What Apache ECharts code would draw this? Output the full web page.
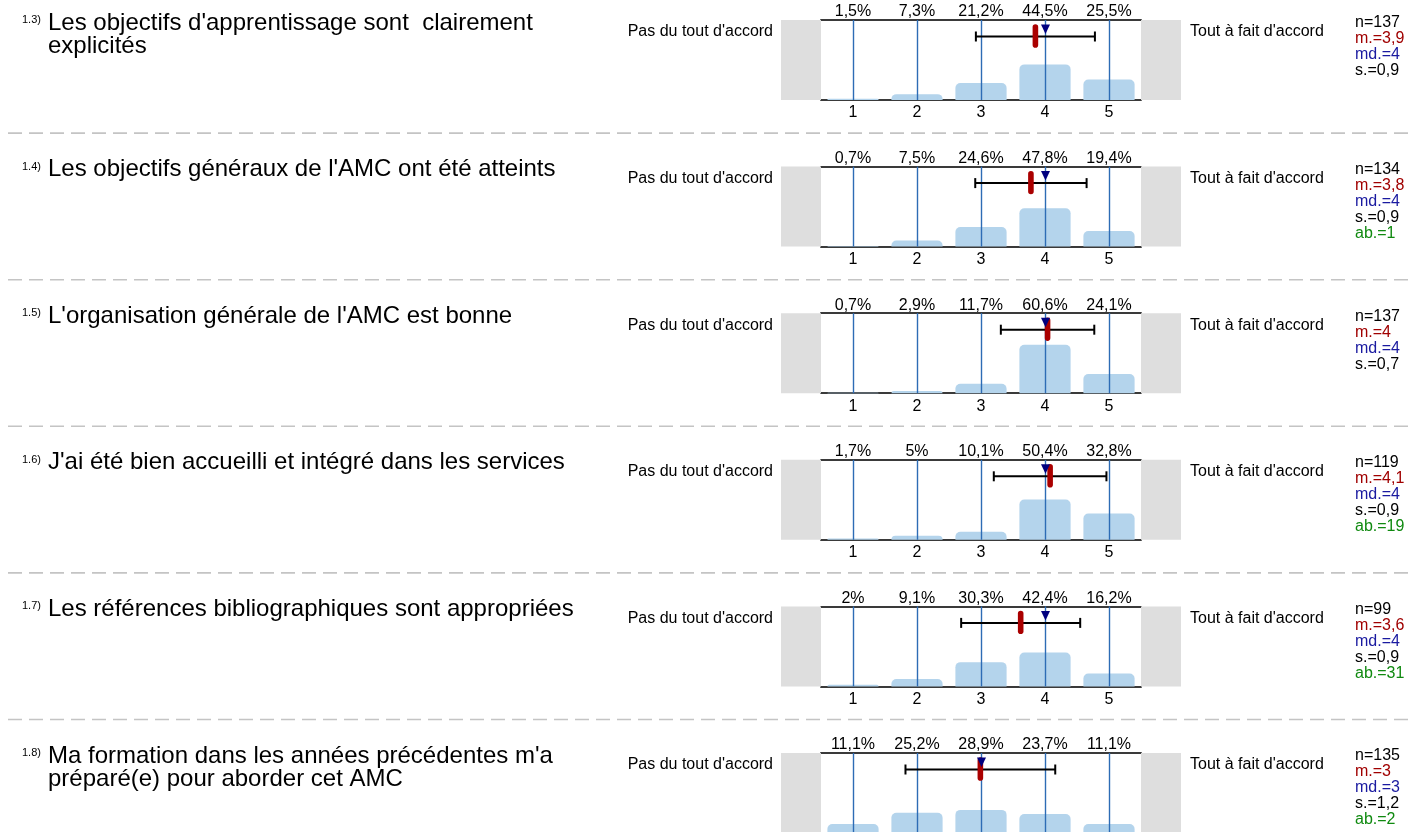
<!DOCTYPE html>
<html><head><meta charset="utf-8">
<script src="https://cdn.jsdelivr.net/npm/echarts@6/dist/echarts.min.js"></script>
<style>html,body{margin:0;padding:0;background:#fff}#c{width:1417px;height:832px}</style>
</head><body><div id="c"></div>
<script>
const categories = ['1', '2', '3', '4', '5'];
const questionNumbers = ['1.3)', '1.4)', '1.5)', '1.6)', '1.7)', '1.8)'];
const questions = [
  "Les objectifs d'apprentissage sont  clairement\nexplicités",
  "Les objectifs généraux de l'AMC ont été atteints",
  "L'organisation générale de l'AMC est bonne",
  "J'ai été bien accueilli et intégré dans les services",
  "Les références bibliographiques sont appropriées",
  "Ma formation dans les années précédentes m'a\npréparé(e) pour aborder cet AMC"
];
const leftLabel = "Pas du tout d'accord";
const rightLabel = "Tout à fait d'accord";

const pct13 = [1.5, 7.3, 21.2, 44.5, 25.5];
const pct14 = [0.7, 7.5, 24.6, 47.8, 19.4];
const pct15 = [0.7, 2.9, 11.7, 60.6, 24.1];
const pct16 = [1.7, 5, 10.1, 50.4, 32.8];
const pct17 = [2, 9.1, 30.3, 42.4, 16.2];
const pct18 = [11.1, 25.2, 28.9, 23.7, 11.1];
const percents = [pct13, pct14, pct15, pct16, pct17, pct18];

const means = [3.85, 3.78, 4.04, 4.08, 3.62, 2.99];
const sds = [0.93, 0.87, 0.73, 0.88, 0.93, 1.17];
const medians = [4, 4, 4, 4, 4, 3];
const nValues = [137, 134, 137, 119, 99, 135];
const meanLabels = ['3,9', '3,8', '4', '4,1', '3,6', '3'];
const medianLabels = ['4', '4', '4', '4', '4', '3'];
const sdLabels = ['0,9', '0,9', '0,7', '0,9', '0,9', '1,2'];
const abstentions = [null, 1, null, 19, 31, 2];

const FONT = '"Liberation Sans", Arial, sans-serif';
const ROW0 = 20, ROWSTEP = 146.6, PLOT_LEFT = 821, PLOT_W = 320, PLOT_H = 80;

const fmtPct = v => String(v).replace('.', ',') + '%';

const grid = [], xAxis = [], yAxis = [], series = [], graphic = [];

percents.forEach((pct, i) => {
  const T = ROW0 + ROWSTEP * i;
  grid.push({ left: PLOT_LEFT, top: T, width: PLOT_W, height: PLOT_H, outerBoundsMode: 'none', containLabel: false });
  const lineStyle = { color: '#3a3a3a', width: 2 };
  xAxis.push({
    gridIndex: i, type: 'category', data: categories, position: 'bottom',
    axisLine: { show: true, lineStyle }, axisTick: { show: false },
    axisLabel: { fontSize: 16, color: '#000', margin: 5, fontFamily: FONT },
    splitLine: { show: false }
  });
  xAxis.push({
    gridIndex: i, type: 'category', data: pct.map(fmtPct), position: 'top',
    axisLine: { show: true, lineStyle }, axisTick: { show: false },
    axisLabel: { fontSize: 16, color: '#000', margin: 0, fontFamily: FONT },
    splitLine: { show: false }
  });
  xAxis.push({ gridIndex: i, type: 'value', min: 0.5, max: 5.5, show: false });
  yAxis.push({ gridIndex: i, type: 'value', min: 0, max: 100, show: false });

  series.push({
    type: 'bar', xAxisIndex: 3 * i, yAxisIndex: i, data: pct, barWidth: '80%',
    itemStyle: { color: '#b4d4ec', borderRadius: [5, 5, 0, 0] }, silent: true, z: 2
  });
  series.push({
    type: 'custom', xAxisIndex: 3 * i + 2, yAxisIndex: i, z: 3, silent: true, clip: false,
    data: [[means[i], sds[i], medians[i]]],
    renderItem: function (params, api) {
      const cs = params.coordSys;
      const m = api.value(0), s = api.value(1), md = api.value(2);
      const y = cs.y + 16.5;
      const ch = [];
      ch.push({ type: 'rect', shape: { x: cs.x - 40, y: cs.y, width: 40, height: cs.height }, style: { fill: '#dedede' } });
      ch.push({ type: 'rect', shape: { x: cs.x + cs.width, y: cs.y, width: 40, height: cs.height }, style: { fill: '#dedede' } });
      categories.forEach(c => {
        const p = api.coord([+c, 0]);
        const px = Math.round(p[0]) + 0.5;
        ch.push({ type: 'line', shape: { x1: px, y1: cs.y, x2: px, y2: cs.y + cs.height }, style: { stroke: '#2d6cb5', lineWidth: 1.4 } });
      });
      const xl = api.coord([m - s, 0])[0], xr = api.coord([m + s, 0])[0];
      const xm = api.coord([m, 0])[0], xmd = api.coord([md, 0])[0] + 0.5;
      ch.push({ type: 'line', shape: { x1: xl, y1: y, x2: xr, y2: y }, style: { stroke: '#000', lineWidth: 2 } });
      ch.push({ type: 'line', shape: { x1: xl, y1: y - 5, x2: xl, y2: y + 5 }, style: { stroke: '#000', lineWidth: 2 } });
      ch.push({ type: 'line', shape: { x1: xr, y1: y - 5, x2: xr, y2: y + 5 }, style: { stroke: '#000', lineWidth: 2 } });
      ch.push({ type: 'rect', shape: { x: xm - 2.8, y: cs.y + 4.3, width: 5.6, height: 23.4, r: 2.8 }, style: { fill: '#aa0000' } });
      ch.push({ type: 'polygon', shape: { points: [[xmd - 4.5, cs.y + 4.5], [xmd + 4.5, cs.y + 4.5], [xmd, cs.y + 14]] }, style: { fill: '#00007f' } });
      return { type: 'group', children: ch };
    }
  });

  // texts
  graphic.push({ type: 'text', x: 22, y: T, style: { text: questionNumbers[i], font: '11px ' + FONT, fill: '#000', textVerticalAlign: 'middle' } });
  graphic.push({ type: 'text', x: 48, y: T - 8.5, style: { text: questions[i], font: '24px ' + FONT, lineHeight: 23, fill: '#000', textVerticalAlign: 'top' } });
  graphic.push({ type: 'text', x: 773, y: T + 12, style: { text: leftLabel, font: '16px ' + FONT, fill: '#000', textAlign: 'right', textVerticalAlign: 'middle' } });
  graphic.push({ type: 'text', x: 1190, y: T + 12, style: { text: rightLabel, font: '16px ' + FONT, fill: '#000', textAlign: 'left', textVerticalAlign: 'middle' } });
  const stats = [
    ['n=' + nValues[i], '#000'],
    ['m.=' + meanLabels[i], '#a00000'],
    ['md.=' + medianLabels[i], '#1a1aa0'],
    ['s.=' + sdLabels[i], '#000']
  ];
  if (abstentions[i] !== null) stats.push(['ab.=' + abstentions[i], '#108a10']);
  stats.forEach((st, k) => {
    graphic.push({ type: 'text', x: 1355, y: T + 3 + 16 * k, style: { text: st[0], font: '16px ' + FONT, fill: st[1], textVerticalAlign: 'middle' } });
  });
  if (i > 0) {
    graphic.push({ type: 'line', shape: { x1: 8, y1: T - 33.5, x2: 1412, y2: T - 33.5 }, style: { stroke: '#c4c4c4', lineWidth: 1.6, lineDash: [14, 7] } });
  }
});

const chart = echarts.init(document.getElementById('c'));
chart.setOption({
  animation: false,
  backgroundColor: '#fff',
  grid, xAxis, yAxis, series, graphic
});
</script>
</body></html>
